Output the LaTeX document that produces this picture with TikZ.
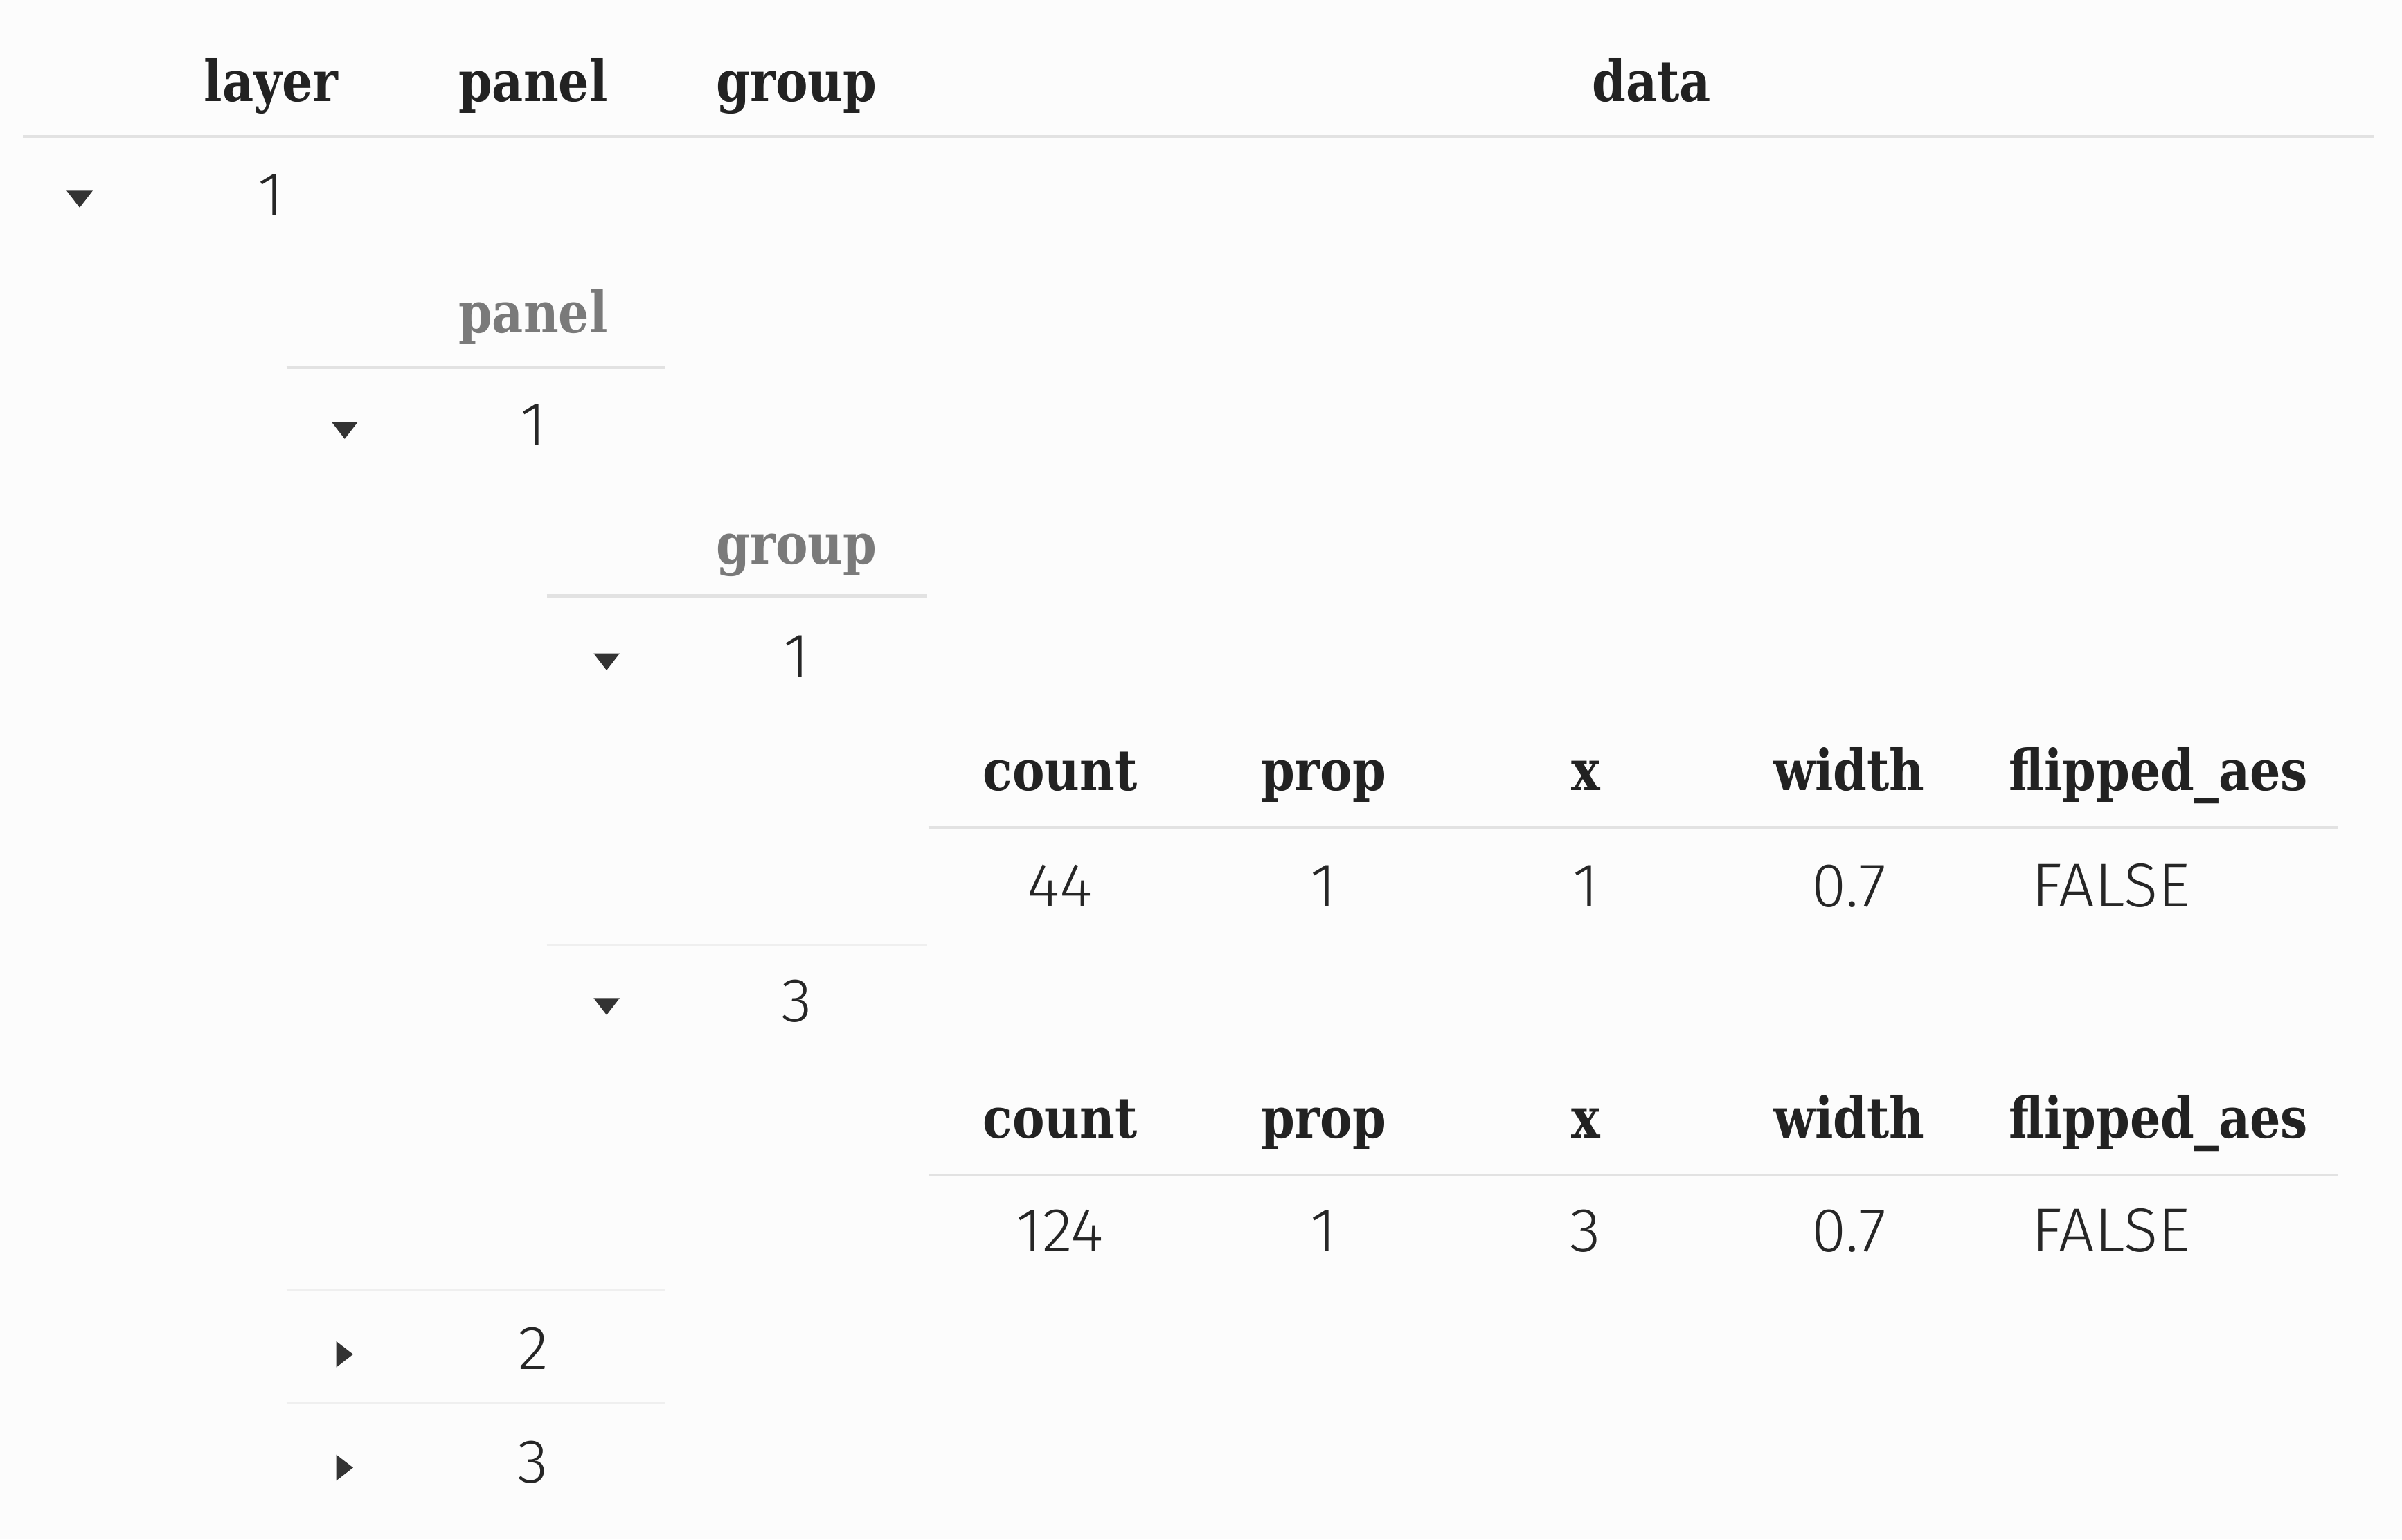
\documentclass[tikz,border=0pt]{standalone}
\usepackage{fontspec}
\newfontfamily\headfont{DejaVu Serif Condensed}[FakeStretch=0.95]
\newfontfamily\cellfont{Fira Sans Light}[FakeStretch=1.02]
\definecolor{bgcol}{HTML}{FCFCFC}
\definecolor{headcol}{HTML}{222222}
\definecolor{subcol}{HTML}{7A7A7A}
\definecolor{cellcol}{HTML}{262626}
\definecolor{rulecol}{HTML}{E2E2E2}
\definecolor{sepcol}{HTML}{EFEFEF}
\definecolor{tricol}{HTML}{333333}
\begin{document}
\begin{tikzpicture}[x=0.02cm,y=-0.02cm]
	\tikzset{head/.style = {anchor=base,inner sep=0pt,text=headcol,font=\headfont\bfseries\fontsize{21}{25}\selectfont}}
	\tikzset{subhead/.style = {head,text=subcol}}
	\tikzset{cell/.style = {anchor=base,inner sep=0pt,text=cellcol,font=\cellfont\fontsize{23}{27}\selectfont}}
	\tikzset{rule/.style = {draw=rulecol,line width=1.1pt}}
	\tikzset{sep/.style = {draw=sepcol,line width=0.6pt}}
	\tikzset{opened/.pic = {\fill[tricol] (-8.5,-5.5) -- (8.5,-5.5) -- (0,5.5) -- cycle;}}
	\tikzset{closed/.pic = {\fill[tricol] (-5.5,-8.5) -- (-5.5,8.5) -- (5.5,0) -- cycle;}}
	\fill[bgcol] (0,0) rectangle (1568,1005);
	\useasboundingbox (0,0) rectangle (1568,1005);
	% top header
	\node[head] (layer) at (177,66) {layer};
	\node[head] (panel) at (348,66) {panel};
	\node[head] (group) at (520,66) {group};
	\node[head] (data) at (1078,66) {data};
	\draw[rule] (15,89) -- (1550,89);
	% layer 1
	\pic (tl) at (52,130) {opened};
	\node[cell] (l1) at (177,141) {1};
	\node[subhead] (subpanel) at (348,217) {panel};
	\draw[rule] (187,240) -- (434,240);
	% panel 1
	\pic (tp1) at (225,281) {opened};
	\node[cell] (p1) at (348,291) {1};
	\node[subhead] (subgroup) at (520,368) {group};
	\draw[rule] (357,389) -- (605,389);
	% group 1
	\pic (tg1) at (396,432) {opened};
	\node[cell] (g1) at (520,442) {1};
	\foreach \t/\x [count=\i] in {count/692,prop/864,x/1035,width/1207,flipped\_aes/1409}
		\node[head] (hda\i) at (\x,516) {\t};
	\draw[rule] (606,540) -- (1526,540);
	\foreach \t/\x [count=\i] in {44/692,1/864,1/1035,0.7/1207,FALSE/1378}
		\node[cell] (rwa\i) at (\x,592) {\t};
	\draw[sep] (357,617) -- (605,617);
	% group 3
	\pic (tg3) at (396,657) {opened};
	\node[cell] (g3) at (520,667) {3};
	\foreach \t/\x [count=\i] in {count/692,prop/864,x/1035,width/1207,flipped\_aes/1409}
		\node[head] (hdb\i) at (\x,743) {\t};
	\draw[rule] (606,767) -- (1526,767);
	\foreach \t/\x [count=\i] in {124/692,1/864,3/1035,0.7/1207,FALSE/1378}
		\node[cell] (rwb\i) at (\x,817) {\t};
	% panels 2 and 3
	\draw[sep] (187,842) -- (434,842);
	\pic (tp2) at (225,884) {closed};
	\node[cell] (p2) at (348,894) {2};
	\draw[sep] (187,916) -- (434,916);
	\pic (tp3) at (225,958) {closed};
	\node[cell] (p3) at (348,968) {3};
\end{tikzpicture}
\end{document}
